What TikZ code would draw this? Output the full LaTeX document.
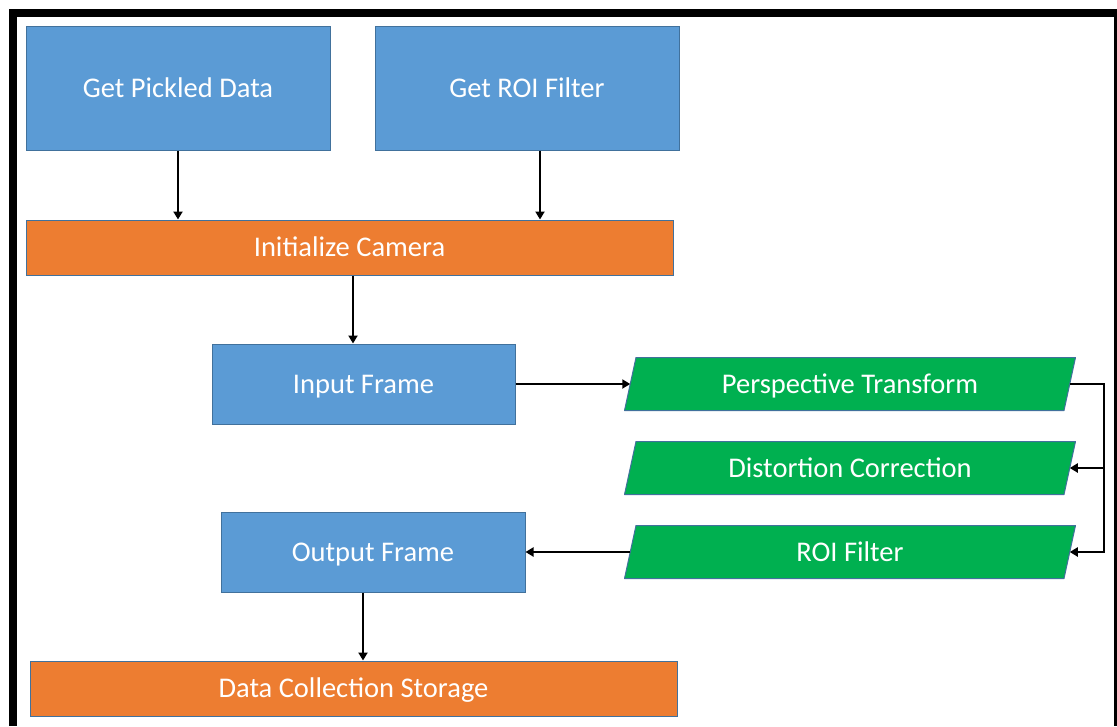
\documentclass[tikz,border=0pt]{standalone}
\usepackage{fontspec}
\setmainfont{Carlito}
\usetikzlibrary{arrows.meta,backgrounds}
\definecolor{boxblue}{HTML}{5B9BD5}
\definecolor{boxorange}{HTML}{ED7D31}
\definecolor{boxgreen}{HTML}{00B050}
\definecolor{edgeblue}{HTML}{41719C}
\begin{document}
\begin{tikzpicture}[x=1pt,y=-1pt,
  base/.style={draw=edgeblue, line width=1pt, text=white, inner sep=0pt,
    text height=18.5pt, text depth=0pt,
    font=\fontsize{28.5}{34}\selectfont},
  bluebox/.style={base, rectangle, fill=boxblue, minimum width=304pt},
  orangebar/.style={base, rectangle, fill=boxorange, minimum width=647pt, minimum height=55pt},
  greenpar/.style={base, draw=none, rectangle, minimum width=438.5pt, minimum height=52pt},
  arr/.style={line width=2pt, -{Triangle[length=8pt,width=9pt]}}
]
% page size
\useasboundingbox (0,0) rectangle (1117,726);

% process boxes
\node[bluebox, minimum height=124pt] (pick) at (178,88) {Get Pickled Data};
\node[bluebox, minimum height=124pt] (roif) at (527,88) {Get ROI Filter};
\node[orangebar] (cam) at (349.5,247.5) {Initialize Camera};
\node[bluebox, minimum width=303pt, minimum height=80pt] (inp) at (363.5,384) {Input Frame};
\node[bluebox, minimum height=80pt] (outp) at (373,552) {Output Frame};
\node[orangebar] (data) at (353.5,688.5) {Data Collection Storage};

% image operations (text nodes; slanted outlines drawn behind)
\node[greenpar] (persp) at (850,384) {Perspective Transform};
\node[greenpar] (dist) at (850,468) {Distortion Correction};
\node[greenpar] (roi) at (850,552) {ROI Filter};

\begin{scope}[on background layer]
  \fill[white] (0,0) rectangle (1117,726);
  \foreach \n in {persp,dist,roi}
    \filldraw[fill=boxgreen, draw=edgeblue, line width=1pt, line join=round]
      ([xshift=-5.75pt]\n.south west) -- ([xshift=5.75pt]\n.north west)
      -- ([xshift=5.75pt]\n.north east) -- ([xshift=-5.75pt]\n.south east) -- cycle;
\end{scope}

% frame
\fill[black] (9,9) rectangle (1117,17);
\fill[black] (9,9) rectangle (17,726);
\fill[black] (1114,9) rectangle (1117,726);

% guide coordinates for vertical runs
\coordinate (c1) at (353,0);
\coordinate (c2) at (363,0);
\coordinate (rx) at (1104,0);

% connectors
\draw[arr] (pick.south) -- (pick.south |- cam.north);
\draw[arr] ([xshift=13pt]roif.south) -- ([xshift=13pt]roif.south |- cam.north);
\draw[arr] (c1 |- cam.south) -- (c1 |- inp.north);
\draw[arr] (inp.east) -- (persp.west);
\draw[arr] (persp.east) -- (rx |- persp.east) -- (rx |- roi.east) -- (roi.east);
\draw[arr] (rx |- dist.east) -- (dist.east);
\draw[arr] (roi.west) -- (outp.east);
\draw[arr] (c2 |- outp.south) -- (c2 |- data.north);
\end{tikzpicture}
\end{document}
